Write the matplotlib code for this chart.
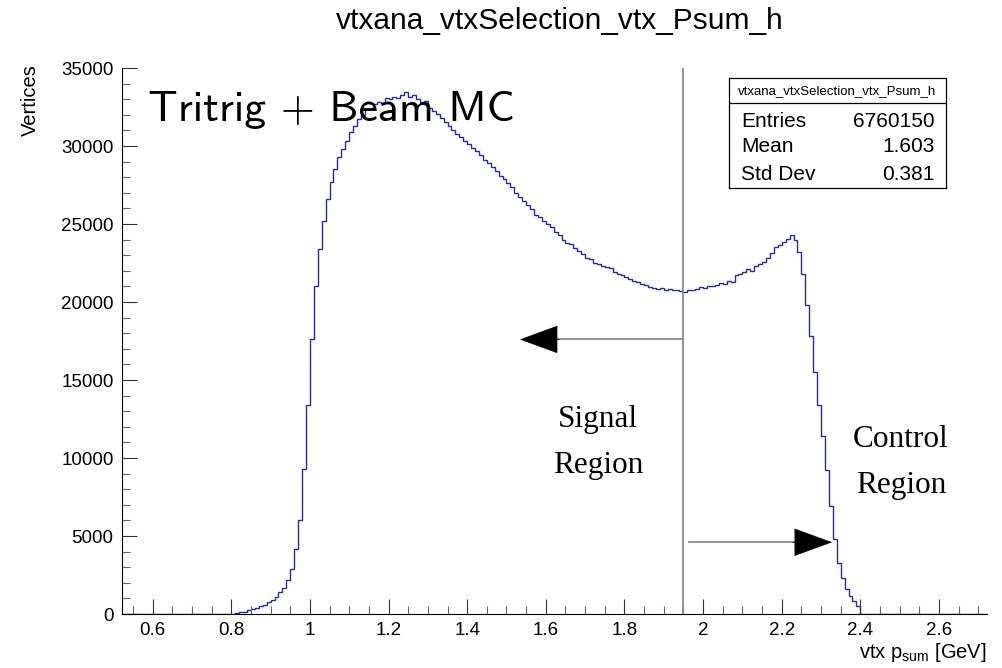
import numpy as np
import matplotlib
matplotlib.use("Agg")
import matplotlib.pyplot as plt
from matplotlib.ticker import MultipleLocator, FormatStrFormatter

plt.rcParams['font.family'] = ['Liberation Sans', 'DejaVu Sans']
plt.rcParams['mathtext.fontset'] = 'custom'
plt.rcParams['mathtext.rm'] = 'Liberation Sans'
plt.rcParams['mathtext.it'] = 'Liberation Sans:italic'

# histogram: 0.01 GeV bins from 0.80 to 2.40
bin_lo = 0.80
bin_hi = 2.40
psum_counts = [
    20, 50, 100, 160, 230, 310, 400, 500, 610, 740,
    900, 1100, 1380, 1700, 2150, 2900, 4200, 6000, 9300, 13400,
    17600, 21000, 23400, 25200, 26600, 27700, 28500, 29300, 29800, 30300,
    30900, 31300, 31700, 32000, 32350, 32400, 32700, 32850, 32750, 33050,
    33000, 33150, 33050, 33300, 33450, 33150, 33250, 33000, 32850, 32900,
    32450, 32250, 32050, 31800, 31550, 31300, 31050, 30800, 30600, 30350,
    30100, 29850, 29650, 29400, 29100, 28900, 28650, 28400, 28100, 27900,
    27600, 27350, 27000, 26700, 26500, 26200, 25950, 25600, 25450, 25200,
    25000, 24800, 24500, 24300, 24000, 23800, 23700, 23450, 23300, 23050,
    22850, 22750, 22500, 22450, 22300, 22250, 22150, 21900, 21800, 21700,
    21600, 21500, 21350, 21300, 21150, 21100, 20950, 20900, 20850, 20900,
    20800, 20850, 20750, 20800, 20700, 20650, 20800, 20750, 20850, 20950,
    20900, 21050, 21000, 21100, 21200, 21150, 21350, 21300, 21700, 21800,
    21900, 22100, 22000, 22300, 22450, 22550, 22800, 23150, 23500, 23650,
    23850, 24050, 24300, 24000, 23200, 21800, 19800, 17800, 15500, 13400,
    11400, 9200, 6900, 4800, 3300, 2300, 1600, 1150, 850, 500,
]

x_range = (0.522, 2.722)
cut_x = 1.95
signal_arrow = (1.534, 17600)
control_arrow = (2.328, 4600)

hist_name = "vtxana_vtxSelection_vtx_Psum_h"
stats_rows = [("Entries", "6760150"), ("Mean", "1.603"), ("Std Dev", "0.381")]

fig = plt.figure(figsize=(10.03, 6.68), dpi=100)
ax = fig.add_axes([0.1216, 0.0808, 0.8624, 0.8174])

edges = np.linspace(bin_lo, bin_hi, len(psum_counts) + 1)
edges = np.concatenate([[x_range[0]], edges, [x_range[1]]])
vals = np.concatenate([[0], psum_counts, [0]])
ax.stairs(vals, edges, color='#2a2a9e', lw=1.0)

ax.set_xlim(*x_range)
ax.set_ylim(0, 35000)

for s in ['top', 'right']:
    ax.spines[s].set_visible(False)
ax.xaxis.set_major_locator(MultipleLocator(0.2))
ax.xaxis.set_minor_locator(MultipleLocator(0.05))
ax.xaxis.set_major_formatter(FormatStrFormatter('%g'))
ax.yaxis.set_major_locator(MultipleLocator(5000))
ax.yaxis.set_minor_locator(MultipleLocator(1000))
ax.tick_params(which='major', direction='in', length=11, width=0.8,
               labelsize=13.5, pad=6, colors='#333333', labelcolor='black')
ax.tick_params(which='minor', direction='in', length=5.5, width=0.8, colors='#666666')

# cut line and arrows
ax.plot([cut_x, cut_x], [0, 35000], color='#8a8a8a', lw=1.3)
ax.plot([cut_x, signal_arrow[0] + 0.08], [signal_arrow[1]] * 2, color='#8a8a8a', lw=1.3)
ax.annotate('', xy=signal_arrow, xytext=(signal_arrow[0] + 0.1, signal_arrow[1]),
            arrowprops=dict(arrowstyle='-|>,head_length=2.6,head_width=0.95',
                            fc='black', ec='black', lw=0.5, mutation_scale=10,
                            shrinkA=0, shrinkB=0))
ax.plot([cut_x + 0.013, control_arrow[0] - 0.08], [control_arrow[1]] * 2, color='#8a8a8a', lw=1.3)
ax.annotate('', xy=control_arrow, xytext=(control_arrow[0] - 0.1, control_arrow[1]),
            arrowprops=dict(arrowstyle='-|>,head_length=2.6,head_width=0.95',
                            fc='black', ec='black', lw=0.5, mutation_scale=10,
                            shrinkA=0, shrinkB=0))

ax.text(1.733, 11000, "Signal\nRegion", family=['Liberation Serif'], fontsize=22.5,
        ha='center', va='center', linespacing=1.75)
ax.text(2.503, 9700, "Control\nRegion", family=['Liberation Serif'], fontsize=22.5,
        ha='center', va='center', linespacing=1.8)

fig.text(148 / 1003, 1 - 110 / 668, "Tritrig + Beam MC", family=['cmss10', 'DejaVu Sans'],
         fontsize=31.5, ha='left', va='center')

fig.text(0.558, 1 - 21 / 668, hist_name, fontsize=21.5, ha='center', va='center')
fig.text(30 / 1003, 1 - 64 / 668, "Vertices", fontsize=14.5, rotation=90,
         ha='center', va='top')
fig.text(987 / 1003, 1 - 653 / 668, r"vtx p$_{\mathrm{sum}}$ [GeV]", fontsize=14.5,
         ha='right', va='center')

# stats box
sb = fig.add_axes([729 / 1003, 1 - 188 / 668, 217 / 1003, 110 / 668])
sb.set_xticks([])
sb.set_yticks([])
for s in sb.spines.values():
    s.set_linewidth(0.9)
sb.set_xlim(0, 1)
sb.set_ylim(0, 1)
sb.axhline(0.773, color='black', lw=0.9)
sb.text(0.5, 0.885, hist_name, fontsize=9.5, ha='center', va='center')
for (lab, val), yy in zip(stats_rows, [0.609, 0.373, 0.127]):
    sb.text(0.055, yy, lab, fontsize=15, ha='left', va='center')
    sb.text(0.949, yy, val, fontsize=15, ha='right', va='center')

fig.savefig("out.png", dpi=100)
